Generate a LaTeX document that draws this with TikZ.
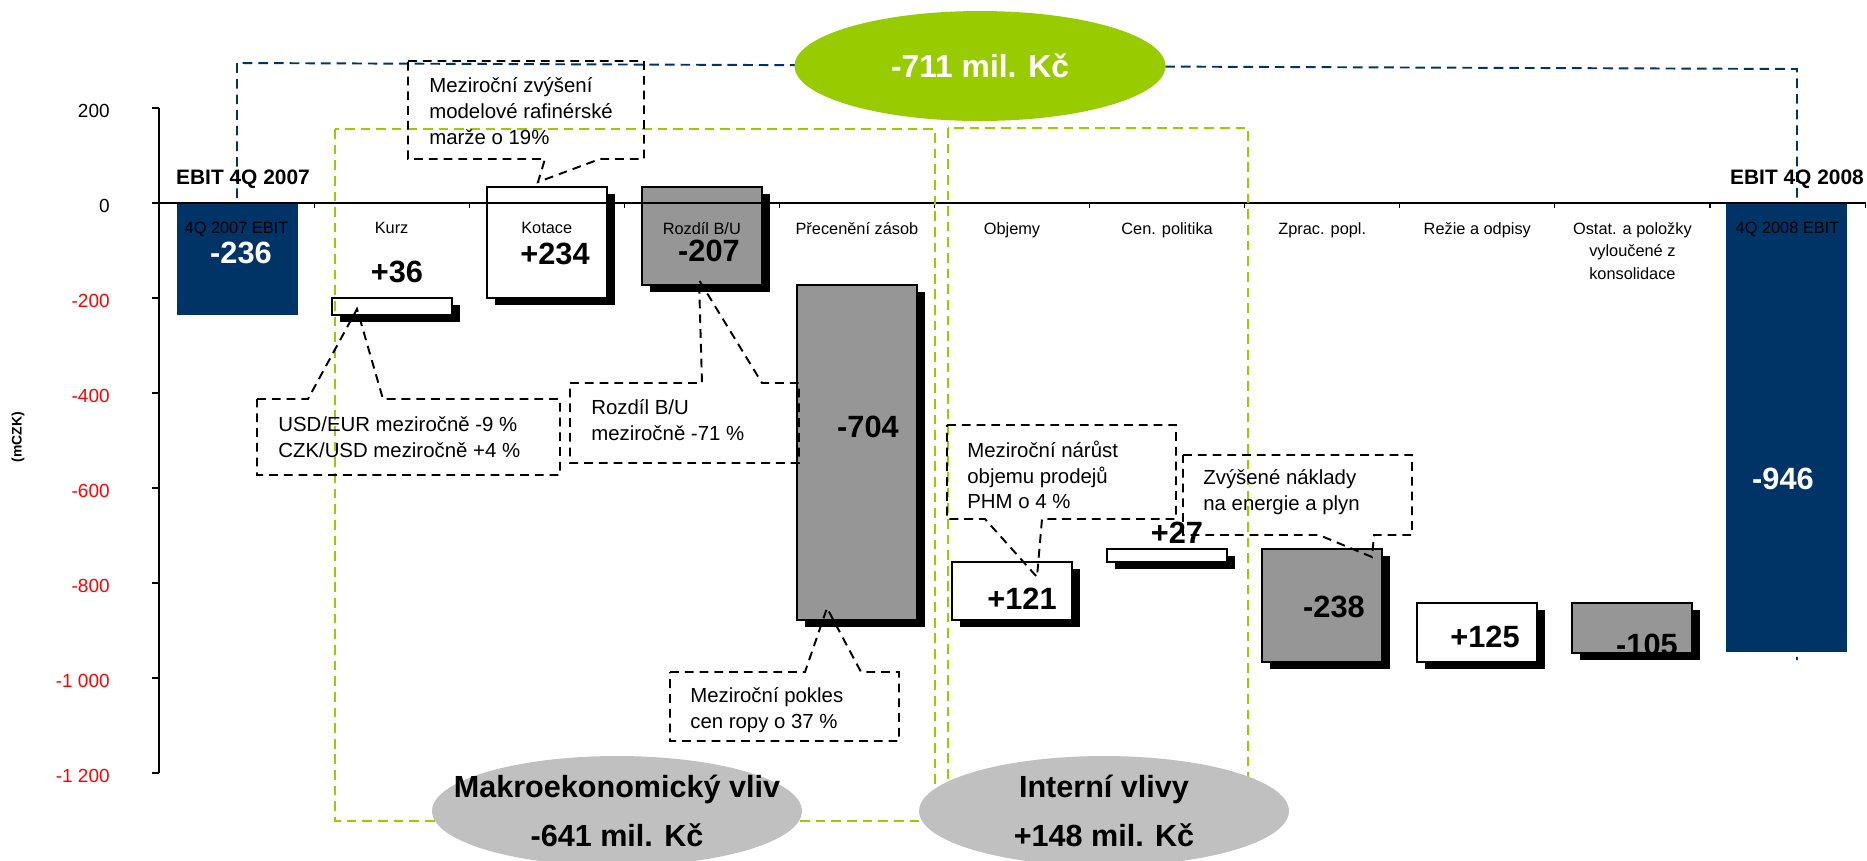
\documentclass[tikz,border=0pt]{standalone}
\usepackage{fontspec}
\setmainfont{Liberation Sans}
\usetikzlibrary{shapes.geometric}

\definecolor{navy}{RGB}{0,51,102}
\definecolor{lime}{RGB}{153,204,0}
\definecolor{bargray}{RGB}{150,150,150}
\definecolor{ovalgray}{RGB}{192,192,192}

\begin{document}
\begin{tikzpicture}[x = 0.02cm,
                    y = -0.02cm,
                    bar/.style = {draw, line width = 1.1pt},
                    axis/.style = {line width = 0.6pt},
                    tick/.style = {font = \fontsize{10.8}{13}\selectfont, anchor = east, inner sep = 0pt},
                    cat/.style = {font = \fontsize{9.3}{12.8}\selectfont, anchor = north, align = center, inner sep = 0pt},
                    val/.style = {font = \fontsize{17.5}{21}\selectfont\bfseries, inner sep = 0pt},
                    ebit/.style = {font = \fontsize{11.9}{14}\selectfont\bfseries, inner sep = 0pt},
                    note/.style = {font = \fontsize{11.6}{14.7}\selectfont, anchor = west, align = left, inner sep = 0pt},
                    big/.style = {font = \fontsize{17.4}{28.3}\selectfont\bfseries, align = center, inner sep = 0pt},
                    callout/.style = {draw, line width = 1.1pt, dash pattern = on 5pt off 3.4pt},
                    limebox/.style = {draw = lime, line width = 1.1pt, dash pattern = on 5.5pt off 3.4pt},
                    navyline/.style = {draw = navy, line width = 1.1pt, dash pattern = on 5.5pt off 3.4pt},
                    oval/.style = {ellipse, fill = ovalgray, inner sep = 0pt,
                                   minimum width = 7.4cm, minimum height = 2.2cm}]

    \useasboundingbox (0,0) rectangle (1867,860);

    % bracket of the total
    \coordinate (s0) at (237,198);
    \coordinate (s1) at (237,63);
    \coordinate (s2) at (1797,69);
    \coordinate (s3) at (1797,660);
    \draw[navyline] (s0) -- (s1) -- (s2) -- (s3);

    % bars
    \fill[navy] (177,203) rectangle (298,315);
    \fill[navy] (1726,203) rectangle (1847,652);

    \foreach \i/\a/\b/\c in {1/-236/-200/white,
                             2/-200/34/white,
                             3/34/-173/bargray,
                             4/-173/-877/bargray,
                             5/-877/-756/white,
                             6/-756/-729/white,
                             7/-729/-967/bargray,
                             8/-967/-842/white,
                             9/-842/-947/bargray}
    {
        \fill ({184.5+155.1*\i},{210-0.475*\a}) rectangle ({304.5+155.1*\i},{210-0.475*\b});
        \draw[bar, fill = \c] ({176.5+155.1*\i},{203-0.475*\a}) rectangle ({296.5+155.1*\i},{203-0.475*\b});
    }

    % axes
    \draw[axis] (159,108) -- (159,773);
    \draw[axis] (152,203) -- (1866,203);
    \foreach \k in {0,...,11}
    {
        \draw[axis] ({159+155.1*\k},203) -- ({159+155.1*\k},208);
    }
    \foreach \v/\t/\c in {200/200/black,
                          0/0/black,
                          -200/-200/red,
                          -400/-400/red,
                          -600/-600/red,
                          -800/-800/red,
                          -1000/-1~000/red,
                          -1200/-1~200/red}
    {
        \draw[axis] (152,{203-0.475*\v}) -- (159,{203-0.475*\v});
        \node[tick, text = \c] (y\v) at (110,{206-0.475*\v}) {\t};
    }
    \node[rotate = 90, font = \fontsize{7.9}{9}\selectfont\bfseries] (unit) at (18,437) {(mCZK)};

    \foreach \i/\t in {0/4Q 2007 EBIT,
                       1/Kurz,
                       2/Kotace,
                       3/{Rozdíl B/U},
                       4/Přecenění zásob,
                       5/Objemy,
                       6/Cen. politika,
                       7/Zprac. popl.,
                       8/Režie a odpisy,
                       9/{Ostat. a položky\\vyloučené z\\konsolidace},
                       10/4Q 2008 EBIT}
    {
        \node[cat] (c\i) at ({236.5+155.1*\i},222) {\t};
    }

    % values
    \node[val, text = white] (v0) at (241,253) {-236};
    \node[val] (v1) at (397,272) {+36};
    \node[val] (v2) at (555,254) {+234};
    \node[val] (v3) at (709,251) {-207};
    \node[val] (v4) at (868,427) {-704};
    \node[val] (v5) at (1022,599) {+121};
    \node[val] (v6) at (1177,533) {+27};
    \node[val] (v7) at (1334,607) {-238};
    \node[val] (v8) at (1485,637) {+125};
    \begin{scope}
        \clip (1574,605) rectangle (1690,651);
        \node[val] (v9) at (1647,645) {-105};
    \end{scope}
    \node[val, text = white] (v10) at (1783,479) {-946};

    \node[ebit] (ebitA) at (243,179) {EBIT 4Q 2007};
    \node[ebit] (ebitB) at (1797,179) {EBIT 4Q 2008};

    % groups
    \draw[limebox] (335,129) rectangle (935,821);
    \draw[limebox] (948,128) rectangle (1248,821);

    % callouts
    \draw[callout] (408,61) -- (644,61) -- (644,159) -- (600,159) -- (538,182) -- (545,159) -- (408,159) -- cycle;
    \node[note] (n1) at (429,111) {Meziroční zvýšení\\modelové rafinérské\\marže o 19\%};

    \draw[callout] (257,399) -- (308,399) -- (357,309) -- (383,399) -- (560,399) -- (560,475) -- (257,475) -- cycle;
    \node[note] (n2) at (278,437) {USD/EUR meziročně -9 \%\\CZK/USD meziročně +4 \%};

    \draw[callout] (570,383) -- (702,383) -- (699,280) -- (762,383) -- (799,383) -- (799,463) -- (570,463) -- cycle;
    \node[note] (n3) at (591,420) {Rozdíl B/U\\meziročně -71 \%};

    \draw[callout] (670,672) -- (805,672) -- (827,608) -- (861,672) -- (899,672) -- (899,741) -- (670,741) -- cycle;
    \node[note] (n4) at (690,710) {Meziroční pokles\\cen ropy o 37 \%};

    \draw[callout] (947,425) -- (1176,425) -- (1176,519) -- (1042,519) -- (1037,577) -- (985,519) -- (947,519) -- cycle;
    \node[note] (n5) at (967,475) {Meziroční nárůst\\objemu prodejů\\PHM o 4 \%};

    \draw[callout] (1183,455) -- (1412,455) -- (1412,535) -- (1374,535) -- (1372,557) -- (1319,535) -- (1183,535) -- cycle;
    \node[note] (n6) at (1203,492) {Zvýšené náklady\\na energie a plyn};

    % ovals
    \node[ellipse, fill = lime, text = white, inner sep = 0pt,
          minimum width = 7.42cm, minimum height = 2.2cm,
          font = \fontsize{18.1}{22}\selectfont\bfseries] (total) at (980,66) {-711 mil. Kč};

    \node[oval] (macro) at (617,811) {};
    \node[big] (macrotxt) at (macro) {Makroekonomický vliv\\-641 mil. Kč};
    \node[oval] (intern) at (1104,811) {};
    \node[big] (interntxt) at (intern) {Interní vlivy\\+148 mil. Kč};
\end{tikzpicture}
\end{document}
